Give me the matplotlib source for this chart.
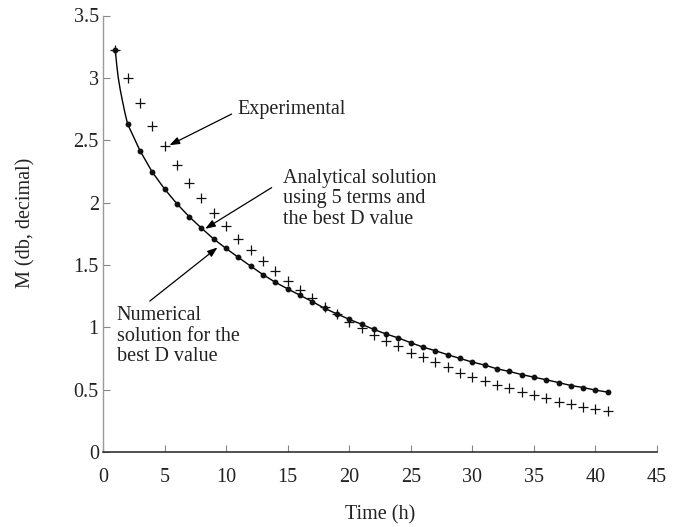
import matplotlib
matplotlib.use("Agg")
import matplotlib.pyplot as plt
import numpy as np

plt.rcParams['font.family'] = ['Liberation Serif', 'DejaVu Serif']

# ---- data ----
time_h = list(range(1, 42))
experimental = [3.22, 3.00, 2.80, 2.61, 2.45, 2.30, 2.16, 2.04, 1.92, 1.81,
                1.71, 1.62, 1.53, 1.45, 1.37, 1.30, 1.235, 1.166, 1.107, 1.045,
                0.994, 0.94, 0.887, 0.847, 0.796, 0.758, 0.72, 0.68, 0.635, 0.605,
                0.571, 0.539, 0.512, 0.48, 0.458, 0.432, 0.404, 0.383, 0.364, 0.346,
                0.33]
numerical = [3.22, 2.63, 2.417, 2.245, 2.109, 1.991, 1.887, 1.795, 1.707, 1.632,
             1.56, 1.49, 1.422, 1.361, 1.308, 1.257, 1.206, 1.152, 1.107, 1.064,
             1.024, 0.983, 0.946, 0.914, 0.876, 0.841, 0.812, 0.78, 0.75, 0.721,
             0.697, 0.667, 0.646, 0.621, 0.60, 0.579, 0.557, 0.533, 0.517, 0.496,
             0.48]
# analytical curve: extra readings near the start where it bends sharply
analytical_t = [1.0, 1.12, 1.24, 1.4, 1.57, 1.78] + list(range(2, 42))
analytical = [3.22, 3.10, 3.00, 2.905, 2.82, 2.72] + numerical[1:]

xticks = [0, 5, 10, 15, 20, 25, 30, 35, 40, 45]
yticks = [0, 0.5, 1, 1.5, 2, 2.5, 3, 3.5]
ytick_labels = ["0", "0.5", "1", "1.5", "2", "2.5", "3", "3.5"]

label_exp = "Experimental"
label_ana = "Analytical solution\nusing 5 terms and\nthe best D value"
label_num = "Numerical\nsolution for the\nbest D value"

FS = 14.5

fig = plt.figure(figsize=(6.84, 5.27), dpi=100)
ax = fig.add_axes([103/684, 75/527, 554/684, 436.5/527])

ax.plot(analytical_t, analytical, color='black', lw=1.0, zorder=2)
ax.plot(time_h, numerical, linestyle='none', marker='o', markersize=3.2,
        color='#111111', zorder=3)
ax.plot(time_h, experimental, linestyle='none', marker='+', markersize=6.5,
        markeredgewidth=0.9, color='#111111', zorder=3)

ax.set_xlim(0, 45)
ax.set_ylim(0, 3.5)
ax.set_xticks(xticks)
ax.set_yticks(yticks)
ax.set_yticklabels(ytick_labels)
ax.tick_params(axis='both', direction='in', length=5, width=0.8,
               colors='#888888', labelcolor='#222222', labelsize=FS)
ax.tick_params(axis='x', pad=11.5)
ax.tick_params(axis='y', pad=3)

for s in ['top', 'right']:
    ax.spines[s].set_visible(False)
ax.spines['left'].set_color('#9a9a9a')
ax.spines['bottom'].set_color('#333333')
ax.spines['left'].set_linewidth(1.0)
ax.spines['bottom'].set_linewidth(1.2)

ax.set_xlabel("Time (h)", fontsize=FS, color='#222222', labelpad=13)
ax.set_ylabel("M (db, decimal)", fontsize=FS, color='#222222')
ax.yaxis.set_label_coords(-0.121, 0.525)

arrow = dict(arrowstyle='-|>,head_length=0.6,head_width=0.22', color='black',
             lw=0.9, shrinkA=0, shrinkB=0)
ax.annotate("", xy=(5.4, 2.46), xytext=(10.45, 2.71), arrowprops=arrow)
ax.annotate("", xy=(8.3, 1.79), xytext=(13.7, 2.12), arrowprops=arrow)
ax.annotate("", xy=(9.3, 1.64), xytext=(3.8, 1.21), arrowprops=arrow)

ax.text(10.95, 2.75, label_exp, fontsize=FS, va='center', ha='left', color='#222222')
ax.text(14.6, 2.03, label_ana, fontsize=FS, va='center', ha='left',
        linespacing=1.12, color='#222222')
ax.text(1.1, 0.93, label_num, fontsize=FS, va='center', ha='left',
        linespacing=1.12, color='#222222')

fig.savefig("out.png", dpi=100)
